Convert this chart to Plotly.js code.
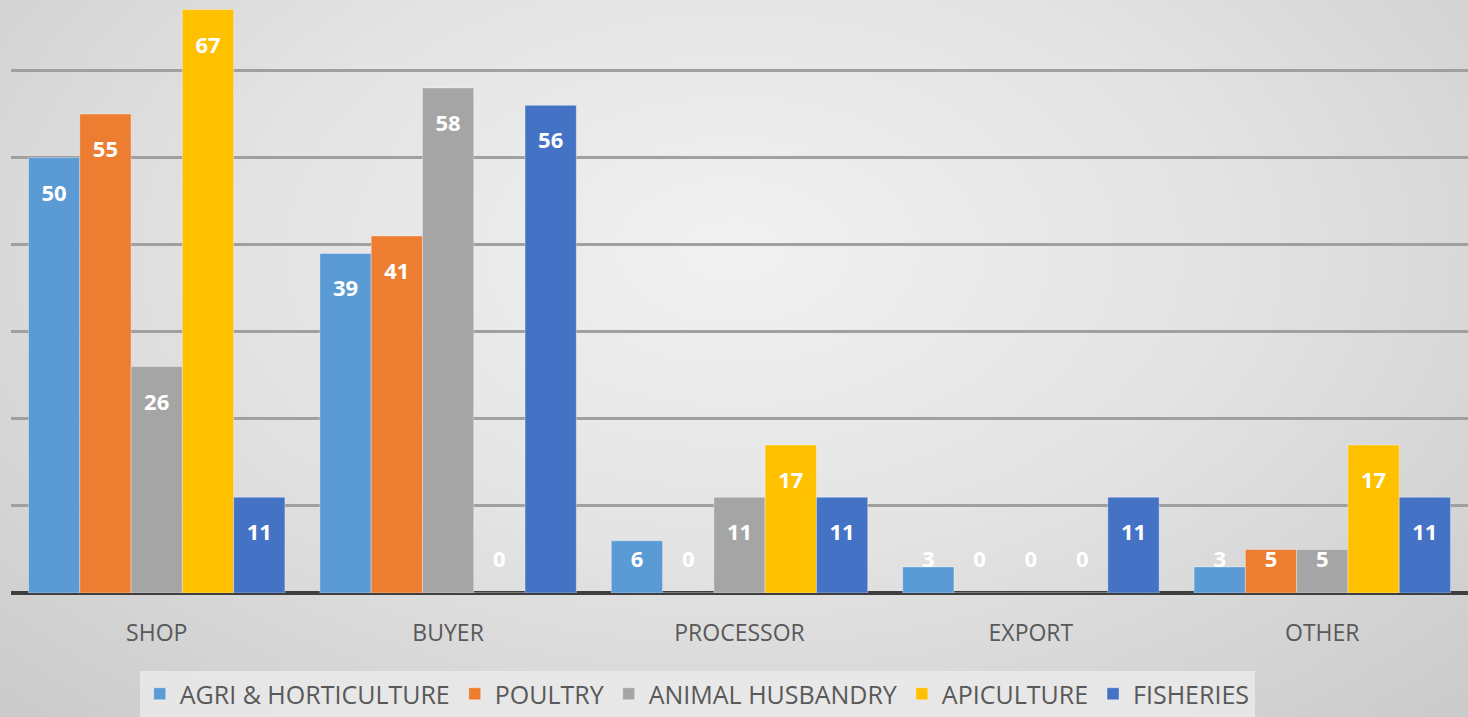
<!DOCTYPE html>
<html><head><meta charset="utf-8">
<script src="https://cdn.plot.ly/plotly-3.0.1.min.js"></script>
<style>
html,body{margin:0;padding:0;}
body{width:1468px;height:717px;overflow:hidden;
background: radial-gradient(ellipse 75% 95% at 50% 35%, #f1f1f1 0%, #e3e3e3 45%, #c8c8c8 100%);}
#chart{width:1468px;height:717px;}
</style></head>
<body><div id="chart"></div>
<script>
const categories = ["SHOP","BUYER","PROCESSOR","EXPORT","OTHER"];
const seriesNames = ["AGRI & HORTICULTURE","POULTRY","ANIMAL HUSBANDRY","APICULTURE","FISHERIES"];
const agri = [50,39,6,3,3];
const poultry = [55,41,0,0,5];
const animal = [26,58,11,0,5];
const apiculture = [67,0,17,0,17];
const fisheries = [11,56,11,11,11];
const colors = ["#5B9BD5","#ED7D31","#A5A5A5","#FFC000","#4472C4"];
const allSeries = [agri,poultry,animal,apiculture,fisheries];

const FONT = '"Open Sans", sans-serif';
const traces = [];
allSeries.forEach((vals,i)=>{
  traces.push({type:'bar', name:seriesNames[i], x:categories, y:vals,
    marker:{color:colors[i], line:{color:'rgba(255,255,255,0.35)', width:1}},
    hoverinfo:'y'});
});
allSeries.forEach((vals,i)=>{
  traces.push({type:'scatter', mode:'text', x:categories,
    y:vals.map(v=>Math.max(v-4.3,3.6)), text:vals.map(String),
    textfont:{color:'#ffffff', size:22, family:FONT, weight:'bold'},
    textposition:'middle center', showlegend:false, hoverinfo:'skip', cliponaxis:false});
});

const layout = {
  width:1468, height:717,
  margin:{l:11, r:0, t:0, b:123},
  paper_bgcolor:'rgba(0,0,0,0)', plot_bgcolor:'rgba(0,0,0,0)',
  barmode:'group', bargap:0.12, bargroupgap:0,
  scattermode:'group', scattergap:0.12,
  xaxis:{type:'category', showgrid:false, ticks:'', showline:false, ticklabelstandoff:24,
    tickfont:{family:FONT, size:23, color:'#595959'},
    fixedrange:true},
  yaxis:{range:[0,68.1], dtick:10, showticklabels:false, gridcolor:'#a0a0a0', gridwidth:3,
    zeroline:true, zerolinecolor:'#3f3f3f', zerolinewidth:4, fixedrange:true},
  showlegend:true,
  legend:{orientation:'h', x:0.471, xanchor:'center', y:-0.131, yanchor:'top',
    bgcolor:'rgba(234,234,234,0.85)', traceorder:'normal',
    font:{family:FONT, size:25, color:'#595959'},
    itemwidth:30},
  font:{family:FONT}
};
Plotly.newPlot('chart', traces, layout, {displayModeBar:false, staticPlot:true});
</script></body></html>
